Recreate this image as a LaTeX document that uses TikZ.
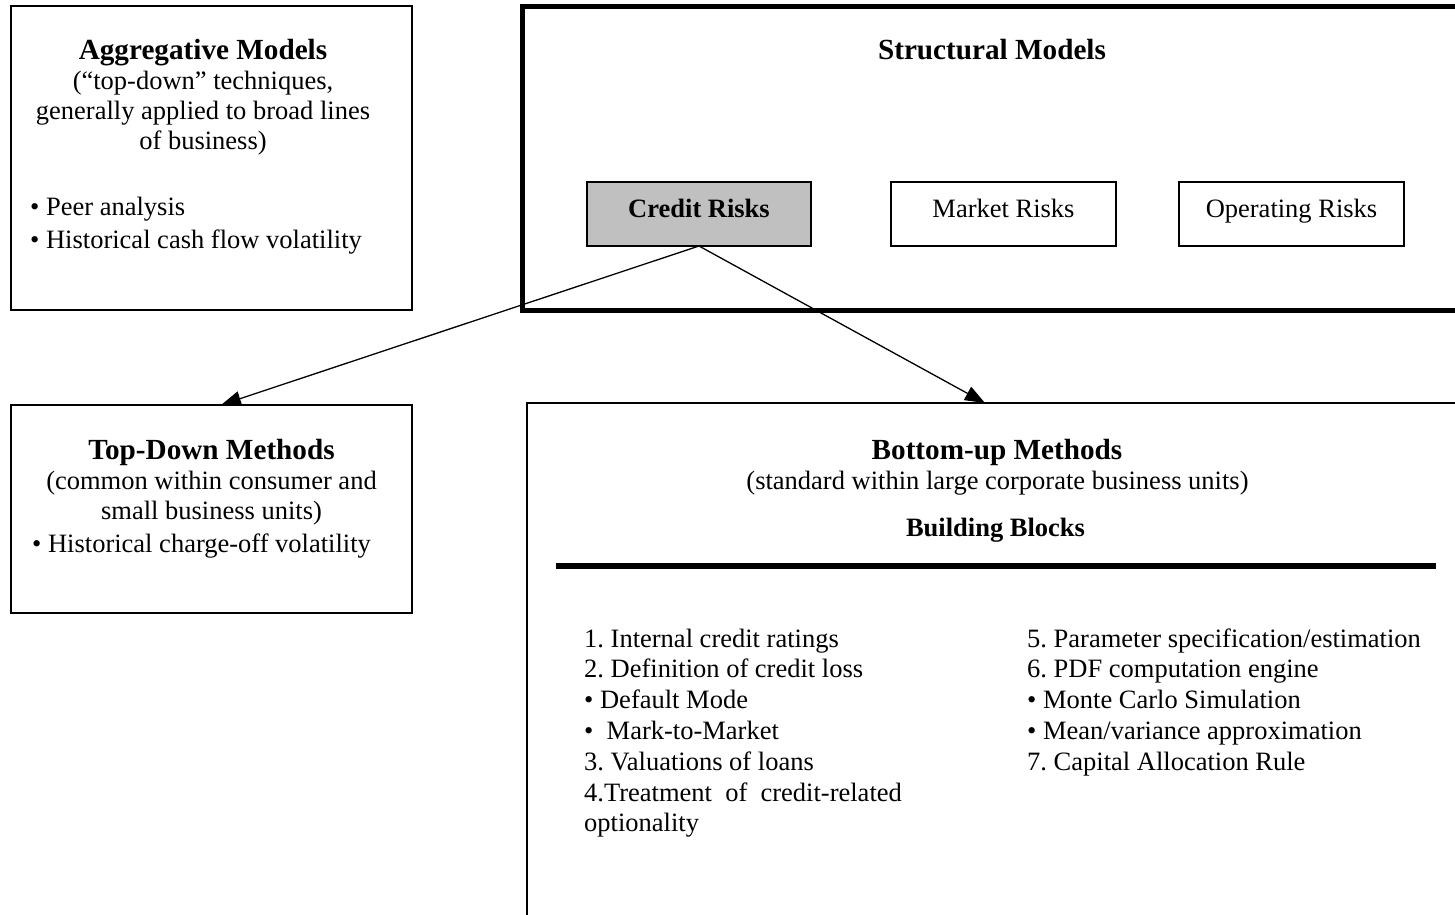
\documentclass[tikz,border=0pt]{standalone}
\usepackage{fontspec}
\setmainfont{Liberation Serif}
\usetikzlibrary{arrows.meta}
\frenchspacing

\definecolor{riskgray}{HTML}{C0C0C0}

\tikzset{
  box/.style={draw, line width=1.3pt, inner sep=0pt, outer sep=0pt, anchor=north west},
  hd/.style={inner sep=0pt, anchor=base, font=\fontsize{29.2}{34}\selectfont\bfseries},
  txt/.style={inner sep=0pt, anchor=base, font=\fontsize{26.5}{31}\selectfont},
  item/.style={txt, anchor=base west},
  conn/.style={line width=1.3pt, -{Triangle[length=20pt,width=15pt]}},
}

\begin{document}
\begin{tikzpicture}[x=1pt, y=-1pt, line cap=butt, line join=miter]

  %% ════ 框 ════
  \node[box, minimum width=401pt, minimum height=304pt] (agg) at (11,6) {};
  \node[box, line width=5pt, minimum width=950pt, minimum height=304pt] (struct) at (522,6) {};
  \node[box, fill=riskgray, minimum width=224pt, minimum height=64pt] (credit) at (587,182) {};
  \node[box, minimum width=225pt, minimum height=64pt] (market) at (891,182) {};
  \node[box, minimum width=225pt, minimum height=64pt] (oper) at (1179,182) {};
  \node[box, minimum width=401pt, minimum height=208pt] (topdown) at (11,405) {};
  \node[box, minimum width=950pt, minimum height=530pt] (bottomup) at (527,403) {};

  %% ════ 左上：Aggregative ════
  \node[hd]  (aggT)  at (203,59)  {Aggregative Models};
  \node[txt] (aggS1) at (203,89)  {(“top-down” techniques,};
  \node[txt] (aggS2) at (203,119) {generally applied to broad lines};
  \node[txt] (aggS3) at (203,149) {of business)};
  \node[item] (aggB1) at (30,215) {• Peer analysis};
  \node[item] (aggB2) at (30,248) {• Historical cash flow volatility};

  %% ════ 右上：Structural ════
  \node[hd] (structT) at (992,59) {Structural Models};
  \node[txt, font=\fontsize{26.5}{31}\selectfont\bfseries] (creditT) at (699,217) {Credit Risks};
  \node[txt] (marketT) at (1003.5,217) {Market Risks};
  \node[txt] (operT)   at (1291.5,217) {Operating Risks};

  %% ════ 左下：Top-Down ════
  \node[hd]  (tdT)  at (211.5,459) {Top-Down Methods};
  \node[txt] (tdS1) at (211.5,489) {(common within consumer and};
  \node[txt] (tdS2) at (211.5,519) {small business units)};
  \node[item] (tdB1) at (32,552) {• Historical charge-off volatility};

  %% ════ 右下：Bottom-up ════
  \node[hd]  (buT)  at (997,459)   {Bottom-up Methods};
  \node[txt] (buS1) at (997.5,489) {(standard within large corporate business units)};
  \node[txt, font=\fontsize{26.5}{31}\selectfont\bfseries] (buB) at (995.5,536) {Building Blocks};
  \draw[line width=6pt] (556,566) -- (1436,566);

  \foreach \t [count=\i from 0] in {{1. Internal credit ratings}, {2. Definition of credit loss},
      {• Default Mode}, {•\ \ Mark-to-Market}, {3. Valuations of loans},
      {4.Treatment\ \ of\ \ credit-related}, {optionality}}
    \node[item] (left\i) at (584,{647+30.8*\i}) {\t};
  \foreach \t [count=\i from 0] in {{5. Parameter specification/estimation}, {6. PDF computation engine},
      {• Monte Carlo Simulation}, {• Mean/variance approximation}, {7. Capital Allocation Rule}}
    \node[item] (right\i) at (1027,{647+30.8*\i}) {\t};

  %% ════ 箭头 ════
  \draw[conn] (credit.south) -- ([xshift=9.5pt]topdown.north);
  \draw[conn] (credit.south) -- ([xshift=-17pt]bottomup.north);

  % 钉死画布
  \pgfresetboundingbox
  \path[use as bounding box] (0,0) rectangle (1455,914);
\end{tikzpicture}
\end{document}
